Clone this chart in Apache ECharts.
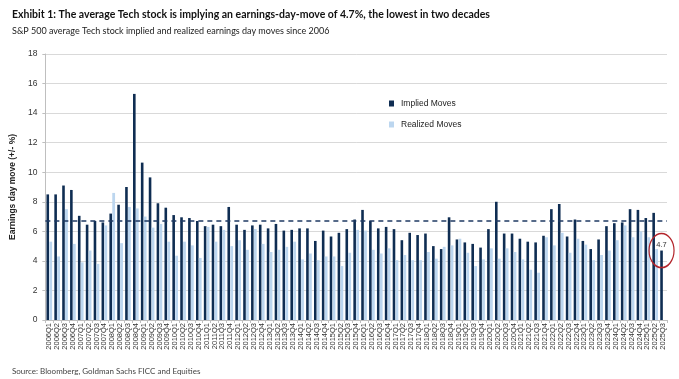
<!DOCTYPE html>
<html>
<head>
<meta charset="utf-8">
<script src="https://cdn.jsdelivr.net/npm/echarts@6/dist/echarts.min.js"></script>
<style>
html,body{margin:0;padding:0;background:#fff;}
#c{width:679px;height:379px;}
</style>
</head>
<body>
<div id="c"></div>
<script>
var years = ['2006','2007','2008','2009','2010','2011','2012','2013','2014','2015','2016','2017','2018','2019','2020','2021','2022','2023','2024','2025'];
var quarters = [];
years.forEach(function(y){ ['Q1','Q2','Q3','Q4'].forEach(function(q){ quarters.push(y + q); }); });
var categories = quarters.slice(0, quarters.indexOf('2025Q3') + 1);

var impliedMoves = [8.5,8.5,9.1,8.8,7.05,6.45,6.7,6.6,7.2,7.8,9.0,15.3,10.65,9.65,7.9,7.6,7.1,6.95,6.9,6.7,
  6.35,6.45,6.35,7.65,6.45,6.1,6.4,6.45,6.2,6.5,6.05,6.1,6.2,6.2,5.35,6.05,5.65,5.9,6.15,6.8,
  7.45,6.7,6.2,6.3,6.15,5.4,5.9,5.75,5.85,5.0,4.8,6.95,5.45,5.25,5.15,4.9,6.15,8.0,5.85,5.85,
  5.5,5.3,5.25,5.7,7.5,7.85,5.65,6.8,5.35,4.8,5.45,6.35,6.55,6.6,7.5,7.45,6.9,7.25,4.7];

var realizedMoves = [5.3,4.3,7.5,5.15,3.9,4.7,3.8,6.4,8.6,5.2,7.65,7.55,7.0,6.25,6.5,5.3,4.35,5.3,5.05,4.2,
  6.3,5.3,6.1,5.0,5.4,4.75,6.15,5.15,4.6,4.75,4.95,5.3,4.1,4.5,4.05,4.3,4.3,3.65,4.55,6.1,
  6.05,4.75,4.5,4.85,4.05,4.4,4.05,4.05,4.6,4.15,4.95,5.05,5.5,4.55,3.65,4.1,4.85,4.15,4.85,4.6,
  4.1,3.4,3.2,5.6,5.05,5.9,4.55,5.5,5.1,4.05,4.4,4.7,5.4,6.4,5.6,6.0,5.6,4.8,null];

var averageImplied = 6.7;
var yTicks = [0,2,4,6,8,10,12,14,16,18];

var navy = '#0f2d52';
var lightBlue = '#bcd6ef';
var lastIdx = categories.length - 1;
var textFont = "Lato, 'DejaVu Sans Condensed', sans-serif";

var chart = echarts.init(document.getElementById('c'), null, {renderer:'canvas'});
chart.setOption({
  animation:false,
  backgroundColor:'#fff',
  title:[
    {text:'Exhibit 1: The average Tech stock is implying an earnings-day-move of 4.7%, the lowest in two decades',
     left:7, top:4, textStyle:{fontFamily:textFont, fontWeight:'bold', fontSize:10.5, color:'#111'}},
    {text:'S&P 500 average Tech stock implied and realized earnings day moves since 2006',
     left:7, top:22, textStyle:{fontFamily:textFont, fontWeight:'normal', fontSize:9, color:'#222'}},
    {text:'Source: Bloomberg, Goldman Sachs FICC and Equities',
     left:7, top:362, textStyle:{fontFamily:textFont, fontWeight:'normal', fontSize:8, color:'#444'}}
  ],
  legend:{
    orient:'vertical', left:384, top:94, itemGap:12,
    itemWidth:5, itemHeight:6,
    icon:'rect',
    textStyle:{fontFamily:'Liberation Sans', fontSize:8.5, color:'#222', padding:[0,0,0,2]},
    data:['Implied Moves','Realized Moves']
  },
  grid:{left:42, right:12, top:54, bottom:59, containLabel:false},
  xAxis:{
    type:'category', data:categories,
    axisLine:{lineStyle:{color:'#bfbfbf'}},
    axisTick:{show:true, interval:0, length:3, lineStyle:{color:'#bfbfbf'}},
    axisLabel:{interval:0, rotate:90, fontFamily:'Liberation Sans', fontSize:7.5, color:'#333', margin:3}
  },
  yAxis:{
    type:'value', min:yTicks[0], max:yTicks[yTicks.length-1], interval:2,
    name:'Earnings day move (+/- %)', nameLocation:'middle', nameGap:20,
    nameTextStyle:{fontFamily:'Liberation Sans', fontWeight:'bold', fontSize:8.5, color:'#222'},
    axisLine:{show:true, lineStyle:{color:'#bfbfbf'}},
    axisTick:{show:true, length:3, lineStyle:{color:'#bfbfbf'}},
    axisLabel:{fontFamily:'Liberation Sans', fontSize:8.5, color:'#333', margin:8},
    splitLine:{lineStyle:{color:'#d9d9d9', width:1}}
  },
  series:[
    {name:'Implied Moves', type:'bar', data:impliedMoves, barWidth:2.6, barGap:'10%',
     itemStyle:{color:navy},
     markLine:{silent:true, symbol:'none', label:{show:false},
       lineStyle:{color:'#1f3a63', type:[5,4], width:1.5},
       data:[{yAxis:averageImplied}]},
     markPoint:{silent:true, symbol:'circle', symbolSize:[25,34],
       itemStyle:{color:'rgba(0,0,0,0)', borderColor:'#b3242a', borderWidth:1.4},
       label:{show:true, formatter:function(p){return String(p.value);}, offset:[0,-6],
         fontFamily:'Liberation Sans', fontSize:7.5, color:'#333'},
       data:[{coord:[lastIdx, impliedMoves[lastIdx]], value:impliedMoves[lastIdx]}]}
    },
    {name:'Realized Moves', type:'bar', data:realizedMoves, barWidth:2.8, barGap:'10%',
     itemStyle:{color:lightBlue}}
  ]
});
</script>
</body>
</html>
